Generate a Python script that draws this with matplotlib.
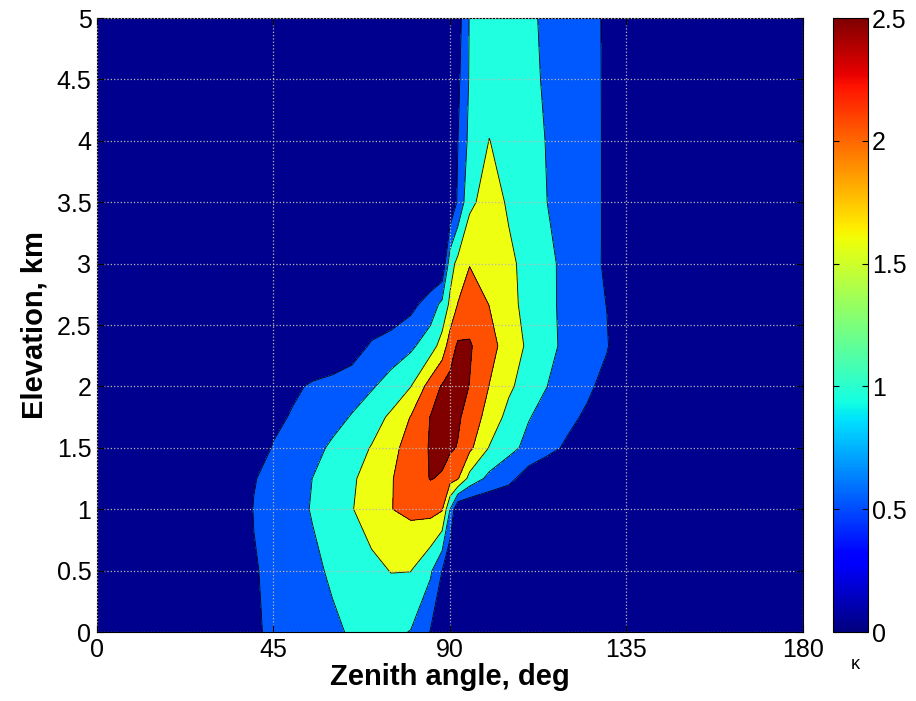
import numpy as np
import matplotlib
matplotlib.use("Agg")
import matplotlib.pyplot as plt
from matplotlib.colors import Normalize
from matplotlib.cm import ScalarMappable

plt.rcParams['font.family'] = ['Liberation Sans', 'DejaVu Sans']

# zenith angle grid (deg) and elevation grid (km) of the kappa table
zenith = [0, 35, 40, 45, 50, 55, 60, 65, 70, 75, 80, 85, 88, 90, 92, 95,
          100, 105, 110, 115, 120, 125, 130, 135, 180]
elevation = [0, 0.5, 1.0, 1.25, 1.5, 1.75, 2.0, 2.33, 2.67, 3.0, 3.5, 4.0, 4.5, 5.0]

# kappa values, one row per elevation
k_00 = [0, 0, 0.45, 0.565, 0.684, 0.804, 0.923, 1.046, 1.174, 1.104, 0.98, 0.476, 0, 0,
        0, 0, 0, 0, 0, 0, 0, 0, 0, 0, 0]
k_05 = [0, 0, 0.46, 0.618, 0.765, 0.912, 1.062, 1.219, 1.375, 1.517, 1.51, 1.083, 0.5, 0,
        0, 0, 0, 0, 0, 0, 0, 0, 0, 0, 0]
k_10 = [0, 0.094, 0.523, 0.69, 0.857, 1.031, 1.254, 1.478, 1.732, 1.99, 2.109, 2.16, 2.04, 1.0,
        0, 0, 0, 0, 0, 0, 0, 0, 0, 0, 0]
k_125 = [0, 0, 0.472, 0.66, 0.83, 1.005, 1.217, 1.435, 1.694, 1.972, 2.223, 2.52, 2.45, 2.2,
         2.04, 1.333, 0.864, 0.636, 0.25, 0, 0, 0, 0, 0, 0]
k_15 = [0, 0, 0.175, 0.544, 0.711, 0.879, 1.064, 1.291, 1.526, 1.851, 2.205, 2.54, 2.65, 2.571,
        2.476, 2.11, 1.479, 1.137, 0.875, 0.667, 0.4, 0, 0, 0, 0]
k_175 = [0, 0, 0, 0.35, 0.561, 0.712, 0.864, 1.026, 1.289, 1.586, 2.02, 2.514, 2.653, 2.655,
         2.564, 2.326, 1.792, 1.355, 1.026, 0.831, 0.647, 0.4, 0, 0, 0]
k_20 = [0, 0, 0, 0, 0.4, 0.575, 0.7, 0.825, 0.95, 1.188, 1.49, 2.214, 2.55, 2.65,
        2.65, 2.49, 1.99, 1.583, 1.278, 0.99, 0.808, 0.615, 0.3, 0, 0]
k_233 = [0, 0, 0, 0, 0, 0, 0, 0.208, 0.573, 0.74, 0.907, 1.262, 1.7, 2.25,
         2.572, 2.549, 2.179, 1.773, 1.415, 1.11, 0.89, 0.717, 0.545, 0, 0]
k_267 = [0, 0, 0, 0, 0, 0, 0, 0, 0, 0.1, 0.35, 0.722, 1.119, 1.591,
         2.016, 2.25, 1.99, 1.643, 1.347, 1.092, 0.879, 0.689, 0.49, 0, 0]
k_30 = [0, 0, 0, 0, 0, 0, 0, 0, 0, 0, 0, 0, 0, 1.3,
        1.632, 1.98, 1.843, 1.598, 1.347, 1.092, 0.874, 0.677, 0.429, 0, 0]
k_35 = [0, 0, 0, 0, 0, 0, 0, 0, 0, 0, 0, 0, 0, 0,
        0.583, 1.385, 1.733, 1.435, 1.217, 0.99, 0.819, 0.638, 0.45, 0, 0]
k_40 = [0, 0, 0, 0, 0, 0, 0, 0, 0, 0, 0, 0, 0, 0,
        0.49, 1.138, 1.509, 1.33, 1.151, 0.973, 0.801, 0.63, 0.45, 0, 0]
k_45 = [0, 0, 0, 0, 0, 0, 0, 0, 0, 0, 0, 0, 0, 0,
        0.385, 1.05, 1.3, 1.189, 1.078, 0.951, 0.788, 0.624, 0.45, 0, 0]
k_50 = [0, 0, 0, 0, 0, 0, 0, 0, 0, 0, 0, 0, 0, 0,
        0.269, 1.031, 1.25, 1.154, 1.058, 0.935, 0.774, 0.613, 0.45, 0, 0]

levels = [0, 0.5, 1.0, 1.5, 2.0, 2.5, 3.0]
band_colors = ['#00008F', '#0058FF', '#20FFDF', '#EEFF12', '#FF4F00', '#800000']

kappa = np.array([k_00, k_05, k_10, k_125, k_15, k_175, k_20, k_233, k_267,
                  k_30, k_35, k_40, k_45, k_50])
X, Y = np.meshgrid(zenith, elevation)

fig = plt.figure(figsize=(9.16, 7.01), dpi=100)
ax = fig.add_axes([0.1059, 0.0984, 0.7707, 0.8759])
ax.contourf(X, Y, kappa, levels=levels, colors=band_colors)
ax.contour(X, Y, kappa, levels=levels[1:-1], colors='k', linewidths=0.6)

ax.set_xlim(0, 180)
ax.set_ylim(0, 5)
ax.set_xticks([0, 45, 90, 135, 180])
ax.set_yticks(np.arange(0, 5.01, 0.5))
ax.set_yticklabels(['0', '0.5', '1', '1.5', '2', '2.5', '3', '3.5', '4', '4.5', '5'])
ax.tick_params(direction='in', top=True, right=True, labelsize=18, length=5)
ax.tick_params(axis='x', pad=4)
ax.tick_params(axis='y', pad=4)
ax.grid(True, linestyle=':', color='#b8b8b8', linewidth=0.9)
ax.set_axisbelow(False)
ax.set_xlabel('Zenith angle, deg', fontsize=21, fontweight='bold', labelpad=1)
ax.set_ylabel('Elevation, km', fontsize=21, fontweight='bold', labelpad=6)
for s in ax.spines.values():
    s.set_linewidth(0.8)

cax = fig.add_axes([0.9094, 0.0984, 0.0382, 0.8759])
sm = ScalarMappable(norm=Normalize(0, 2.5), cmap='jet')
cb = fig.colorbar(sm, cax=cax, ticks=[0, 0.5, 1, 1.5, 2, 2.5])
cb.ax.set_yticklabels(['0', '0.5', '1', '1.5', '2', '2.5'])
cb.ax.tick_params(direction='in', left=True, right=True, labelsize=18, length=4, pad=3)
cb.outline.set_linewidth(0.8)
fig.text(0.934, 0.045, 'κ', fontsize=13, ha='center')

fig.savefig('out.png', dpi=100)
